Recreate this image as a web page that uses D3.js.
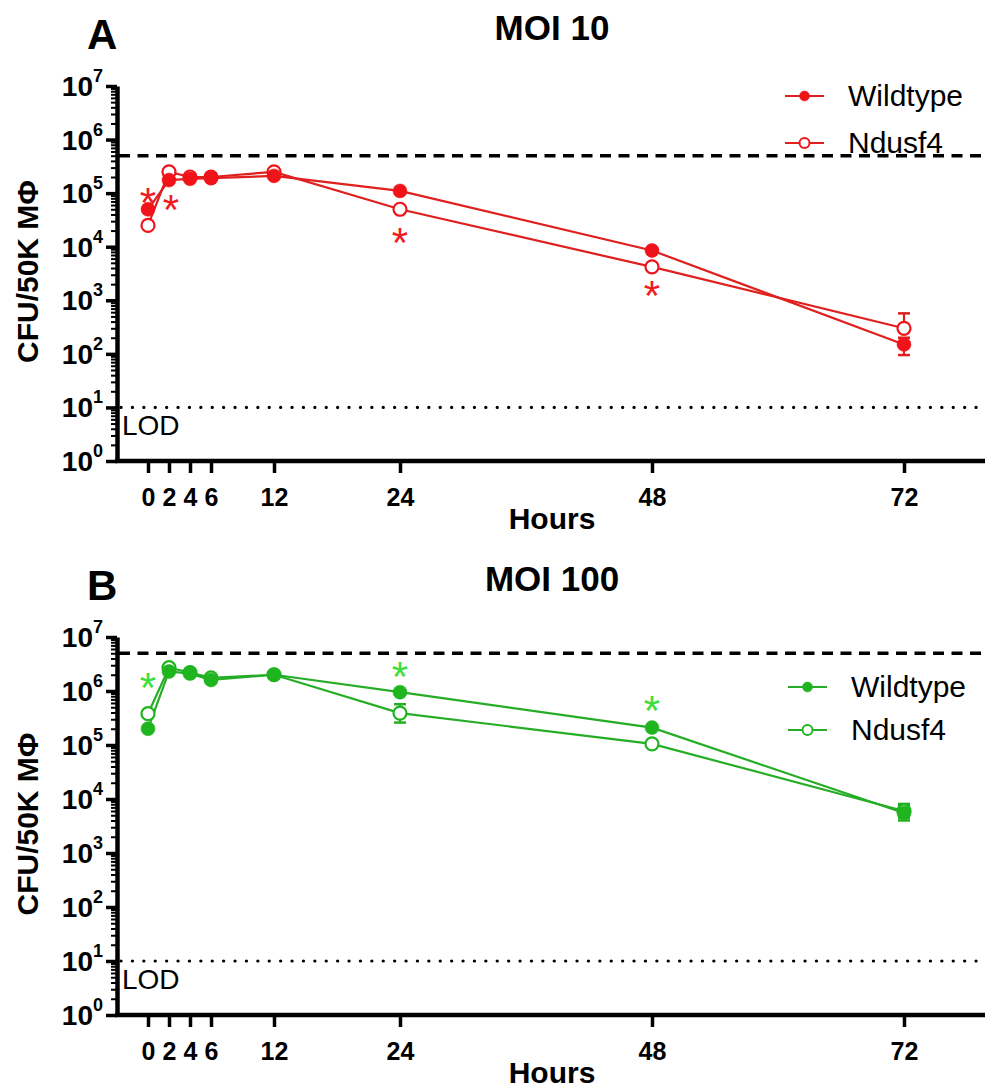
<!DOCTYPE html>
<html>
<head>
<meta charset="utf-8">
<script src="https://cdn.jsdelivr.net/npm/d3@7"></script>
<style>
  body { margin: 0; background: #fff; }
  svg { display: block; font-family: "Liberation Sans", Arial, sans-serif; }
</style>
</head>
<body>
<div id="chart"></div>
<script>
//data
var hours = [0, 2, 4, 6, 12, 24, 48, 72];
var yExponents = [0, 1, 2, 3, 4, 5, 6, 7];
var seriesNames = ["Wildtype", "Ndusf4"];
var lodValue = 10;

//MOI 10
var moi10Wildtype     = [5.0e4, 1.75e5, 1.85e5, 1.9e5, 2.1e5, 1.1e5, 8.5e3, 150];
var moi10WildtypeLow  = [null, null, null, null, null, null, null, 95];
var moi10WildtypeHigh = [null, null, null, null, null, null, null, 200];
var moi10Ndusf4       = [2.5e4, 2.5e5, 2.0e5, 2.0e5, 2.5e5, 5.0e4, 4.2e3, 300];
var moi10Ndusf4Low    = [null, null, null, null, null, null, null, null];
var moi10Ndusf4High   = [null, null, null, null, null, null, null, 570];
var moi10StarHours    = [0, 2, 24, 48];
var moi10StarValues   = [9.0e4, 6.5e4, 1.6e4, 1.6e3];
var moi10Input        = 5e5;

//MOI 100
var moi100Wildtype     = [2.0e5, 2.3e6, 2.1e6, 1.6e6, 2.0e6, 9.5e5, 2.1e5, 5.5e3];
var moi100WildtypeLow  = [null, null, null, null, null, null, null, 4.0e3];
var moi100WildtypeHigh = [null, null, null, null, null, null, null, 7.5e3];
var moi100Ndusf4       = [3.8e5, 2.7e6, 2.2e6, 1.75e6, 2.0e6, 3.9e5, 1.05e5, 6.0e3];
var moi100Ndusf4Low    = [null, null, null, null, null, 2.6e5, null, 4.5e3];
var moi100Ndusf4High   = [null, null, null, null, null, 5.7e5, null, 8.1e3];
var moi100StarHours    = [0, 24, 48];
var moi100StarValues   = [1.5e6, 2.45e6, 5.7e5];
var moi100Input        = 5e6;

var svg = d3.select("#chart").append("svg")
    .attr("width", 985)
    .attr("height", 1089);

function drawPanel(p) {
    var x = d3.scaleLinear().domain([0, 72]).range([148, 904]);
    var y = d3.scaleLog().domain([1, 1e7]).range([p.bottom, p.top]);
    var g = svg.append("g");

    //panel letter + title
    g.append("text")
        .attr("x", 87).attr("y", p.top - 37)
        .style("font-size", "42px").style("font-weight", "bold")
        .text(p.letter);
    g.append("text")
        .attr("x", 552).attr("y", p.top - 46)
        .attr("text-anchor", "middle")
        .style("font-size", "35px").style("font-weight", "bold")
        .text(p.title);

    //inoculum line (dashed) and LOD (dotted)
    g.append("line")
        .attr("x1", 119).attr("x2", 985)
        .attr("y1", y(p.input)).attr("y2", y(p.input))
        .attr("stroke", "#000").attr("stroke-width", 3.5)
        .attr("stroke-dasharray", "11,7.5");
    g.append("line")
        .attr("x1", 121).attr("x2", 985)
        .attr("y1", y(lodValue)).attr("y2", y(lodValue))
        .attr("stroke", "#000").attr("stroke-width", 3.2)
        .attr("stroke-linecap", "round")
        .attr("stroke-dasharray", "0.1,11.3");
    g.append("text")
        .attr("x", 122).attr("y", y(lodValue) + 28)
        .style("font-size", "28px")
        .text("LOD");

    //y axis, major + minor ticks
    var majors = yExponents.map(function(e) { return Math.pow(10, e); });
    var minors = [];
    yExponents.slice(0, -1).forEach(function(e) {
        for (var k = 2; k <= 9; k++) minors.push(k * Math.pow(10, e));
    });

    var yMinor = g.append("g")
        .attr("transform", "translate(117,0)")
        .call(d3.axisLeft(y).tickValues(minors).tickSize(6).tickFormat(""));
    yMinor.select(".domain").remove();
    yMinor.selectAll(".tick line").attr("stroke-width", 2);

    var yMajor = g.append("g")
        .attr("transform", "translate(117,0)")
        .call(d3.axisLeft(y).tickValues(majors).tickSize(11).tickSizeOuter(0).tickFormat(""));
    yMajor.select(".domain").attr("stroke-width", 4.5);
    yMajor.selectAll(".tick line").attr("stroke-width", 3.5);

    //y tick labels 10^n
    var yLab = g.selectAll(".ylab")
        .data(yExponents)
        .enter().append("text")
        .attr("class", "ylab")
        .attr("x", 103)
        .attr("y", function(d) { return y(Math.pow(10, d)) + 10; })
        .attr("text-anchor", "end")
        .style("font-weight", "bold");
    yLab.append("tspan").style("font-size", "28px").text("10");
    yLab.append("tspan")
        .attr("dy", -14)
        .style("font-size", "18px")
        .text(function(d) { return d; });

    //x axis
    g.append("line")
        .attr("x1", 115).attr("x2", 985)
        .attr("y1", p.bottom).attr("y2", p.bottom)
        .attr("stroke", "#000").attr("stroke-width", 4.5);
    var xAxis = g.append("g")
        .attr("transform", "translate(0," + p.bottom + ")")
        .call(d3.axisBottom(x).tickValues(hours).tickSize(12).tickPadding(15));
    xAxis.select(".domain").remove();
    xAxis.selectAll(".tick line").attr("stroke-width", 3.5);
    xAxis.selectAll(".tick text")
        .style("font-size", "25px").style("font-weight", "bold")
        .style("font-family", "'Liberation Sans', Arial, sans-serif");

    //axis titles
    g.append("text")
        .attr("x", 552).attr("y", p.bottom + 68)
        .attr("text-anchor", "middle")
        .style("font-size", "30px").style("font-weight", "bold")
        .text("Hours");
    g.append("text")
        .attr("transform", "translate(38," + ((p.top + p.bottom) / 2 - 2) + ") rotate(-90)")
        .attr("text-anchor", "middle")
        .style("font-size", "30px").style("font-weight", "bold")
        .text("CFU/50K M\u03A6");

    //series
    var series = [
        {name: seriesNames[0], values: p.wt, low: p.wtLow, high: p.wtHigh, filled: true},
        {name: seriesNames[1], values: p.nd, low: p.ndLow, high: p.ndHigh, filled: false}
    ];
    var line = d3.line()
        .x(function(d, i) { return x(hours[i]); })
        .y(function(d) { return y(d); });

    series.forEach(function(s) {
        g.append("path")
            .attr("d", line(s.values))
            .attr("fill", "none")
            .attr("stroke", p.lineColor)
            .attr("stroke-width", 2.2);
    });

    //error bars
    series.forEach(function(s) {
        hours.forEach(function(h, i) {
            [s.low[i], s.high[i]].forEach(function(e) {
                if (e == null) return;
                g.append("line")
                    .attr("x1", x(h)).attr("x2", x(h))
                    .attr("y1", y(s.values[i])).attr("y2", y(e))
                    .attr("stroke", p.lineColor).attr("stroke-width", 2.2);
                g.append("line")
                    .attr("x1", x(h) - 6).attr("x2", x(h) + 6)
                    .attr("y1", y(e)).attr("y2", y(e))
                    .attr("stroke", p.lineColor).attr("stroke-width", 2.5);
            });
        });
    });

    //markers: open first, filled on top
    [series[1], series[0]].forEach(function(s) {
        g.selectAll(null)
            .data(s.values)
            .enter().append("circle")
            .attr("cx", function(d, i) { return x(hours[i]); })
            .attr("cy", function(d) { return y(d); })
            .attr("r", s.filled ? 7 : 6.5)
            .attr("fill", s.filled ? p.markColor : "#fff")
            .attr("stroke", p.markColor)
            .attr("stroke-width", s.filled ? 0.5 : 2.2);
    });

    //significance stars
    g.selectAll(null)
        .data(p.starHours)
        .enter().append("text")
        .attr("x", function(d) { return x(d) + (d == 2 ? 2 : 0); })
        .attr("y", function(d, i) { return y(p.starValues[i]) + 21; })
        .attr("text-anchor", "middle")
        .attr("fill", p.starColor)
        .style("font-size", "42px")
        .text("*");

    //legend
    series.forEach(function(s, i) {
        var ly = p.legendY + i * p.legendGap;
        g.append("line")
            .attr("x1", p.legendX).attr("x2", p.legendX + 39)
            .attr("y1", ly).attr("y2", ly)
            .attr("stroke", p.lineColor).attr("stroke-width", 2.2);
        g.append("circle")
            .attr("cx", p.legendX + 19.5).attr("cy", ly)
            .attr("r", 5)
            .attr("fill", s.filled ? p.markColor : "#fff")
            .attr("stroke", p.markColor)
            .attr("stroke-width", s.filled ? 0.5 : 2);
        g.append("text")
            .attr("x", p.legendX + 63).attr("y", ly + 10)
            .style("font-size", "30px")
            .text(s.name);
    });
}

drawPanel({
    letter: "A", title: "MOI 10", top: 86, bottom: 461,
    input: moi10Input,
    wt: moi10Wildtype, wtLow: moi10WildtypeLow, wtHigh: moi10WildtypeHigh,
    nd: moi10Ndusf4, ndLow: moi10Ndusf4Low, ndHigh: moi10Ndusf4High,
    starHours: moi10StarHours, starValues: moi10StarValues,
    lineColor: "#e0201f", markColor: "#f0141a", starColor: "#ef1c22",
    legendX: 785, legendY: 96, legendGap: 47
});

drawPanel({
    letter: "B", title: "MOI 100", top: 637, bottom: 1015,
    input: moi100Input,
    wt: moi100Wildtype, wtLow: moi100WildtypeLow, wtHigh: moi100WildtypeHigh,
    nd: moi100Ndusf4, ndLow: moi100Ndusf4Low, ndHigh: moi100Ndusf4High,
    starHours: moi100StarHours, starValues: moi100StarValues,
    lineColor: "#26ad26", markColor: "#1fb51f", starColor: "#3ce03c",
    legendX: 788, legendY: 687, legendGap: 43
});
</script>
</body>
</html>
